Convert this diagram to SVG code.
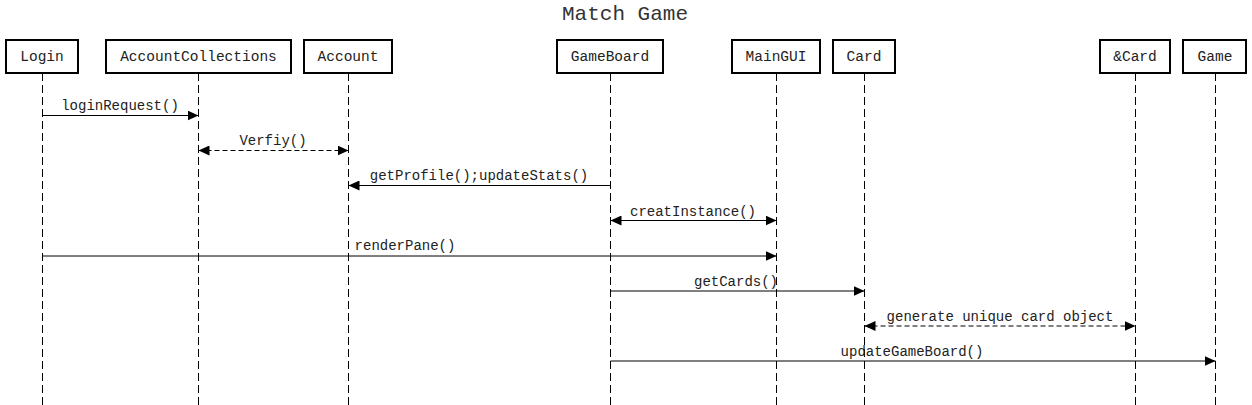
<svg xmlns="http://www.w3.org/2000/svg" width="1252" height="405" viewBox="0 0 1252 405">
<style>
.box{fill:#fff;stroke:#000;stroke-width:2}
.lbl{font-family:"Liberation Mono","Courier New",monospace;font-size:14.5px;fill:#222;text-anchor:middle}
.life{stroke:#000;stroke-width:1;stroke-dasharray:8 4;fill:none}
.msg{stroke:#000;stroke-width:1;fill:none}
.dash{stroke-dasharray:5 3}
.mtxt{font-family:"Liberation Mono","Courier New",monospace;font-size:14px;fill:#222;text-anchor:middle}
.title{font-family:"Liberation Mono","Courier New",monospace;font-size:21px;fill:#333;text-anchor:middle}
</style>
<defs>
<marker id="arr" markerUnits="userSpaceOnUse" markerWidth="12" markerHeight="10" refX="11" refY="5" orient="auto-start-reverse">
<path d="M0,0 L11,5 L0,10 z" fill="#000"/>
</marker>
</defs>
<rect width="1252" height="405" fill="#fff"/>
<text class="title" x="625" y="20">Match Game</text>

<g id="lifelines">
<line class="life" x1="42.5" y1="73" x2="42.5" y2="405"/>
<line class="life" x1="198.5" y1="73" x2="198.5" y2="405"/>
<line class="life" x1="348.5" y1="73" x2="348.5" y2="405"/>
<line class="life" x1="610.5" y1="73" x2="610.5" y2="405"/>
<line class="life" x1="776.5" y1="73" x2="776.5" y2="405"/>
<line class="life" x1="864.5" y1="73" x2="864.5" y2="405"/>
<line class="life" x1="1135.5" y1="73" x2="1135.5" y2="405"/>
<line class="life" x1="1215.5" y1="73" x2="1215.5" y2="405"/>
</g>

<g id="node-login"><rect class="box" x="6" y="40" width="72" height="33"/><text class="lbl" x="42" y="61">Login</text></g>
<g id="node-accountcollections"><rect class="box" x="106" y="40" width="185" height="33"/><text class="lbl" x="198.5" y="61">AccountCollections</text></g>
<g id="node-account"><rect class="box" x="304" y="40" width="88" height="33"/><text class="lbl" x="348" y="61">Account</text></g>
<g id="node-gameboard"><rect class="box" x="557" y="40" width="106" height="33"/><text class="lbl" x="610" y="61">GameBoard</text></g>
<g id="node-maingui"><rect class="box" x="732" y="40" width="88" height="33"/><text class="lbl" x="776" y="61">MainGUI</text></g>
<g id="node-card"><rect class="box" x="833" y="40" width="62" height="33"/><text class="lbl" x="864" y="61">Card</text></g>
<g id="node-refcard"><rect class="box" x="1100" y="40" width="70" height="33"/><text class="lbl" x="1135" y="61">&amp;Card</text></g>
<g id="node-game"><rect class="box" x="1183" y="40" width="63" height="33"/><text class="lbl" x="1215" y="61">Game</text></g>

<g id="connectors">
<line class="msg" x1="42.5" y1="115.5" x2="198.5" y2="115.5" marker-end="url(#arr)"/>
<text class="mtxt" x="120" y="110">loginRequest()</text>

<line class="msg dash" x1="198.5" y1="150.5" x2="348.5" y2="150.5" marker-start="url(#arr)" marker-end="url(#arr)"/>
<text class="mtxt" x="273" y="145">Verfiy()</text>

<line class="msg" x1="610.5" y1="185.5" x2="348.5" y2="185.5" marker-end="url(#arr)"/>
<text class="mtxt" x="479" y="180">getProfile();updateStats()</text>

<line class="msg" x1="610.5" y1="220.5" x2="776.5" y2="220.5" marker-start="url(#arr)" marker-end="url(#arr)"/>
<text class="mtxt" x="693" y="216">creatInstance()</text>

<line class="msg" x1="42.5" y1="256" x2="776.5" y2="256" marker-end="url(#arr)"/>
<text class="mtxt" x="405" y="250">renderPane()</text>

<line class="msg" x1="610.5" y1="291" x2="864.5" y2="291" marker-end="url(#arr)"/>
<text class="mtxt" x="736" y="286">getCards()</text>

<line class="msg dash" x1="864.5" y1="326" x2="1135.5" y2="326" marker-start="url(#arr)" marker-end="url(#arr)"/>
<text class="mtxt" x="1000" y="321">generate unique card object</text>

<line class="msg" x1="610.5" y1="361" x2="1215.5" y2="361" marker-end="url(#arr)"/>
<text class="mtxt" x="912" y="356">updateGameBoard()</text>
</g>
</svg>
